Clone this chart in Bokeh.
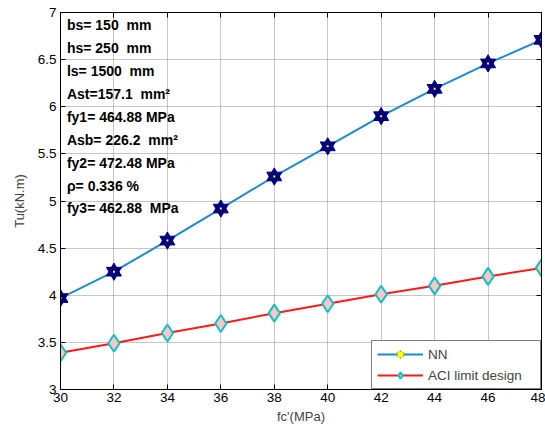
from bokeh.plotting import figure
from bokeh.models import (Legend, LegendItem, LinearAxis, FixedTicker, Range1d,
                          ColumnDataSource, CustomJSTickFormatter)
from bokeh.core.properties import value
from bokeh.embed import file_html
from bokeh.resources import INLINE

# Concrete compressive strength (MPa)
fc = [30, 32, 34, 36, 38, 40, 42, 44, 46, 48]
# Torsional capacity predicted by the neural network (kN.m)
tu_nn = [3.97, 4.25, 4.58, 4.92, 5.26, 5.58, 5.90, 6.19, 6.46, 6.71]
# Torsional capacity from ACI limit design (kN.m)
tu_aci = [3.39, 3.49, 3.60, 3.70, 3.81, 3.91, 4.01, 4.10, 4.20, 4.29]

x_ticks = [30, 32, 34, 36, 38, 40, 42, 44, 46, 48]
y_ticks = [3, 3.5, 4, 4.5, 5, 5.5, 6, 6.5, 7]

# Beam properties listed in the upper-left corner (non-breaking spaces keep
# the double gaps in SVG output)
NB = "\u00a0"
info_lines = [f"bs= 150 {NB}mm", f"hs= 250 {NB}mm", f"ls= 1500 {NB}mm",
              f"Ast=157.1 {NB}mm\u00b2", "fy1= 464.88 MPa", f"Asb= 226.2 {NB}mm\u00b2",
              "fy2= 472.48 MPa", "\u03c1= 0.336 %", f"fy3= 462.88 {NB}MPa"]

FONT = "Liberation Sans"

p = figure(width=545, height=428, output_backend="svg", toolbar_location=None,
           x_range=Range1d(30, 48), y_range=Range1d(3, 7),
           min_border_left=60, min_border_right=4, min_border_top=12,
           min_border_bottom=39, background_fill_color="white",
           border_fill_color="white")

p.outline_line_color = "black"
p.outline_line_width = 1

for ax in (p.xaxis[0], p.yaxis[0]):
    ax.major_label_text_font = FONT
    ax.major_label_text_font_size = "13.5px"
    ax.major_label_text_color = "black"
    ax.axis_label_text_font = FONT
    ax.axis_label_text_font_size = "13px"
    ax.axis_label_text_font_style = "normal"
    ax.axis_line_color = "black"
    ax.major_tick_in = 5
    ax.major_tick_out = 0
    ax.minor_tick_line_color = None
    ax.major_tick_line_color = "black"

p.xaxis[0].ticker = FixedTicker(ticks=x_ticks)
p.yaxis[0].ticker = FixedTicker(ticks=y_ticks)
p.xaxis[0].axis_label = "fc'(MPa)"
p.yaxis[0].axis_label = "Tu(kN.m)"
p.xaxis[0].axis_label_standoff = 4
p.yaxis[0].axis_label_standoff = 8
p.xaxis[0].major_label_standoff = 3
p.yaxis[0].major_label_standoff = 4

# Mirror ticks on the top and right edges, without labels
blank = CustomJSTickFormatter(code="return ''")
top = LinearAxis(ticker=FixedTicker(ticks=x_ticks), formatter=blank,
                 major_tick_in=5, major_tick_out=0, minor_tick_line_color=None,
                 axis_line_color="black", major_label_standoff=0)
right = LinearAxis(ticker=FixedTicker(ticks=y_ticks), formatter=blank,
                   major_tick_in=5, major_tick_out=0, minor_tick_line_color=None,
                   axis_line_color="black", major_label_standoff=0)
p.add_layout(top, "above")
p.add_layout(right, "right")

p.grid.grid_line_color = "#8c8c8c"
p.grid.grid_line_dash = "1 1"
p.grid.grid_line_width = 1
p.xgrid.ticker = FixedTicker(ticks=x_ticks)
p.ygrid.ticker = FixedTicker(ticks=y_ticks)

src = ColumnDataSource(dict(fc=fc, nn=tu_nn, aci=tu_aci))

# NN curve with hexagram markers
nn_line = p.line("fc", "nn", source=src, line_color="#1a8ad4", line_width=2)
nn_up = p.scatter("fc", "nn", source=src, marker="triangle", size=15,
                  fill_color="#000080", line_color="#000080")
nn_dn = p.scatter("fc", "nn", source=src, marker="inverted_triangle", size=15,
                  fill_color="#000080", line_color="#000080")
nn_dot = p.scatter("fc", "nn", source=src, marker="square", size=2,
                   fill_color="yellow", line_color=None)

# ACI curve with diamond markers
aci_line = p.line("fc", "aci", source=src, line_color="#ff1a1a", line_width=2)
aci_pts = p.scatter("fc", "aci", source=src, marker="diamond", size=17,
                    fill_color="#f6c8c8", line_color="#12c0c0", line_width=2)

legend = Legend(items=[
    LegendItem(label="NN", renderers=[nn_line, nn_up, nn_dn, nn_dot]),
    LegendItem(label="ACI limit design", renderers=[aci_line, aci_pts]),
], location="bottom_right")
legend.label_text_font = FONT
legend.label_text_font_size = "13.5px"
legend.border_line_color = "black"
legend.border_line_width = 1
legend.margin = 0
legend.padding = 5
legend.spacing = 5
legend.glyph_width = 46
legend.glyph_height = 16
legend.label_standoff = 5
legend.label_height = 16
legend.label_width = 107
legend.background_fill_alpha = 1
p.add_layout(legend)

# Beam property annotations
info_y = [6.865 - 0.243 * i for i in range(len(info_lines))]
p.text(x=[30.24] * len(info_lines), y=info_y, text=info_lines,
       text_font=value(FONT), text_font_size="14px", text_font_style="bold",
       text_color="black", text_baseline="middle", text_align="left")

open("out.html", "w").write(file_html(p, INLINE))
